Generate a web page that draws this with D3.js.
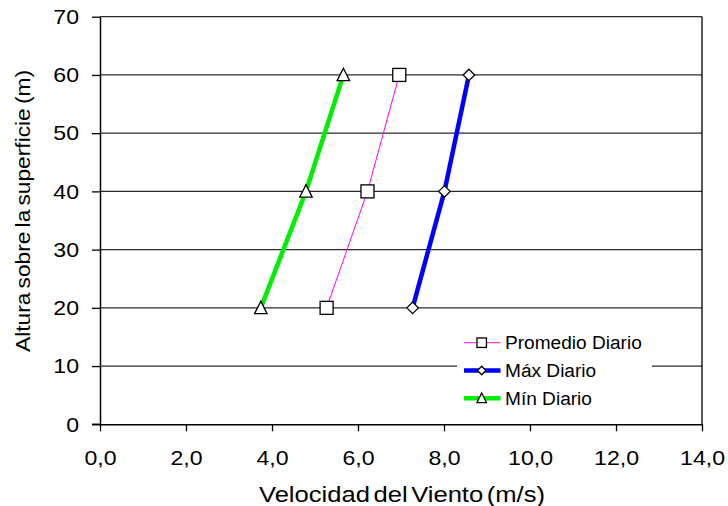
<!DOCTYPE html>
<html>
<head>
<meta charset="utf-8">
<script src="https://cdn.jsdelivr.net/npm/d3@7"></script>
<style>
  html, body { margin: 0; padding: 0; background: #fff; }
  text { font-family: "Liberation Sans", Arial, sans-serif; fill: #000; }
</style>
</head>
<body>
<svg id="chart" width="728" height="506"></svg>
<script>
// Wind speed profile by height
const heights = [20, 40, 60];
const promedioDiario = [5.27, 6.22, 6.96];
const maxDiario = [7.27, 8.01, 8.58];
const minDiario = [3.74, 4.79, 5.66];
const xTicks = [0, 2, 4, 6, 8, 10, 12, 14];
const yTicks = [0, 10, 20, 30, 40, 50, 60, 70];

const series = [
  { name: "Promedio Diario", values: promedioDiario, color: "#ff00ff", width: 1, marker: "square" },
  { name: "Máx Diario", values: maxDiario, color: "#0000ff", width: 4.5, marker: "diamond" },
  { name: "Mín Diario", values: minDiario, color: "#00ee00", width: 4.5, marker: "triangle" }
];

const svg = d3.select("#chart");
const plotLeft = 100, plotRight = 702, plotTop = 16.7, plotBottom = 424.3;
const stretch = 1.1; // text is drawn slightly wide

const x = d3.scaleLinear().domain([0, 14]).range([plotLeft, plotRight]);
const y = d3.scaleLinear().domain([0, 70]).range([plotBottom, plotTop]);
const fmt = d => d3.format(".1f")(d).replace(".", ",");

function widen(sel, factor) {
  sel.each(function () {
    const w = this.getComputedTextLength();
    d3.select(this).attr("textLength", w * factor).attr("lengthAdjust", "spacingAndGlyphs");
  });
}

// horizontal gridlines
svg.append("g").selectAll("line").data(yTicks.filter(d => d > 0)).join("line")
  .attr("x1", plotLeft).attr("x2", plotRight)
  .attr("y1", d => y(d)).attr("y2", d => y(d))
  .attr("stroke", "#2a2a2a").attr("stroke-width", 1.3);

// right border
svg.append("line").attr("x1", plotRight).attr("x2", plotRight).attr("y1", plotTop).attr("y2", plotBottom)
  .attr("stroke", "#000").attr("stroke-width", 1.3);

// axes
const xAxis = svg.append("g").attr("transform", `translate(0,${plotBottom})`)
  .call(d3.axisBottom(x).tickValues(xTicks).tickFormat(fmt).tickSize(7).tickSizeOuter(0).tickPadding(19));
const yAxis = svg.append("g").attr("transform", `translate(${plotLeft},0)`)
  .call(d3.axisLeft(y).tickValues(yTicks).tickFormat(d3.format("d")).tickSize(8).tickSizeOuter(0).tickPadding(13));
[xAxis, yAxis].forEach(a => {
  a.select(".domain").attr("stroke", "#000").attr("stroke-width", 1.5);
  a.selectAll(".tick line").attr("stroke", "#000").attr("stroke-width", 1.3);
  a.selectAll("text").attr("font-size", 21).attr("font-family", "Liberation Sans, Arial, sans-serif").attr("fill", "#000");
  widen(a.selectAll("text"), stretch);
});
// x axis line continues left to meet the 0 tick
svg.append("line").attr("x1", plotLeft - 8).attr("x2", plotLeft).attr("y1", plotBottom).attr("y2", plotBottom)
  .attr("stroke", "#000").attr("stroke-width", 1.5);

// axis titles
svg.append("text").attr("x", 402).attr("y", 501.5)
  .attr("text-anchor", "middle").attr("font-size", 22).attr("word-spacing", -3)
  .text("Velocidad del Viento (m/s)")
  .attr("textLength", 286).attr("lengthAdjust", "spacingAndGlyphs");
svg.append("text").attr("transform", `translate(29.5,211) rotate(-90)`)
  .attr("text-anchor", "middle").attr("font-size", 21).attr("word-spacing", -2)
  .text("Altura sobre la superficie (m)")
  .attr("textLength", 282).attr("lengthAdjust", "spacingAndGlyphs");

function drawMarker(g, type, cx, cy, size) {
  const h = size / 2;
  if (type === "square") {
    g.append("rect").attr("x", cx - h).attr("y", cy - h).attr("width", size).attr("height", size)
      .attr("fill", "#fff").attr("stroke", "#000").attr("stroke-width", 1.3);
  } else if (type === "diamond") {
    g.append("path").attr("d", `M${cx},${cy - h}L${cx + h},${cy}L${cx},${cy + h}L${cx - h},${cy}Z`)
      .attr("fill", "#fff").attr("stroke", "#000").attr("stroke-width", 1.3);
  } else {
    g.append("path").attr("d", `M${cx},${cy - h - 0.5}L${cx + h},${cy + h - 0.5}L${cx - h},${cy + h - 0.5}Z`)
      .attr("fill", "#fff").attr("stroke", "#000").attr("stroke-width", 1.3);
  }
}
const markerSize = { square: 13, diamond: 11.5, triangle: 12.5 };
const legendMarkerSize = { square: 9.5, diamond: 8.5, triangle: 9.5 };

const line = d3.line().x(d => x(d[1])).y(d => y(d[0]));
const plot = svg.append("g");
series.forEach(s => {
  const pts = heights.map((h, i) => [h, s.values[i]]);
  plot.append("path").datum(pts).attr("d", line)
    .attr("fill", "none").attr("stroke", s.color).attr("stroke-width", s.width);
});
series.forEach(s => {
  heights.forEach((h, i) => drawMarker(plot, s.marker, x(s.values[i]), y(h), markerSize[s.marker]));
});

// legend
const lg = svg.append("g");
lg.append("rect").attr("x", 457).attr("y", 326).attr("width", 195).attr("height", 88).attr("fill", "#fff");
series.forEach((s, i) => {
  const cy = 342.7 + i * 27.8;
  lg.append("line").attr("x1", 464).attr("x2", 500.5).attr("y1", cy).attr("y2", cy)
    .attr("stroke", s.color).attr("stroke-width", s.width);
  drawMarker(lg, s.marker, 481.7, cy, legendMarkerSize[s.marker]);
  const t = lg.append("text").attr("x", 505).attr("y", cy + 6.6).attr("font-size", 18).text(s.name);
  widen(t, 1.06);
});
</script>
</body>
</html>
